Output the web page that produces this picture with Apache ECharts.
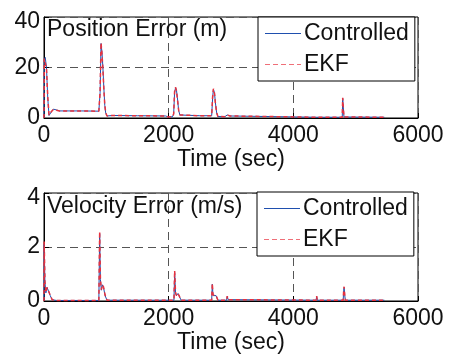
<!DOCTYPE html>
<html>
<head>
<meta charset="utf-8">
<script src="https://cdn.jsdelivr.net/npm/echarts@6/dist/echarts.min.js"></script>
<style>
  html, body { margin: 0; padding: 0; background: #fff; }
  #chart { width: 449px; height: 355px; }
</style>
</head>
<body>
<div id="chart"></div>
<script>
// Time samples (sec) and error traces for the position panel
const posTime = [0, 5, 20, 40, 60, 80, 100, 120, 150, 200, 250, 400, 600, 880, 900, 915, 930, 945, 960, 975, 990, 1010, 1100, 1500, 1950, 2000, 2060, 2080, 2095, 2110, 2125, 2140, 2160, 2180, 2200, 2500, 2690, 2705, 2718, 2735, 2750, 2770, 2790, 2900, 2940, 2960, 2985, 3010, 4370, 4380, 4395, 4785, 4792, 4805, 4812, 5460];
const posControlled = [0, 23, 24, 20, 8, 1, 0.5, 2.5, 3.5, 3.2, 2.8, 2.8, 2.8, 2.7, 10, 29.5, 26, 20, 12, 5, 2, 0.8, 1.0, 0.9, 0.8, 0.4, 0.5, 1.5, 10, 12, 11, 8, 3, 1.2, 0.9, 0.9, 0.9, 8, 11.4, 10, 6, 2, 0.6, 0.5, 1.2, 1.9, 0.8, 0.3, 0.3, 0.6, 0.3, 0.3, 7.8, 7.8, 0.4, 0.3];
const posEKF = [0, 23.5, 23.8, 19.5, 8.5, 1.2, 0.6, 2.6, 3.4, 3.1, 2.8, 2.8, 2.8, 2.7, 10.5, 29.8, 25.5, 19.5, 11.5, 5.2, 2.1, 0.8, 1.0, 0.9, 0.8, 0.4, 0.5, 1.6, 10.4, 12.2, 10.8, 7.6, 3.1, 1.2, 0.9, 0.9, 0.9, 8.3, 11.6, 9.8, 5.8, 2.1, 0.6, 0.5, 1.2, 1.9, 0.8, 0.3, 0.3, 0.6, 0.3, 0.3, 8.0, 7.9, 0.4, 0.3];

// Time samples (sec) and error traces for the velocity panel
const velTime = [0, 3, 15, 30, 50, 70, 100, 130, 200, 880, 893, 905, 920, 936, 955, 980, 1010, 2085, 2096, 2110, 2125, 2150, 2175, 2200, 2690, 2700, 2712, 2735, 2760, 2790, 2930, 2940, 2955, 2980, 4365, 4374, 4385, 4800, 4808, 4815, 4825, 4835, 5300, 5310, 5320, 5460];
const velControlled = [0, 2.1, 0.7, 0.3, 0.5, 0.45, 0.2, 0.05, 0.02, 0.02, 2.5, 0.8, 0.4, 0.6, 0.5, 0.2, 0.03, 0.03, 1.05, 0.3, 0.2, 0.28, 0.15, 0.03, 0.03, 0.62, 0.2, 0.18, 0.2, 0.03, 0.03, 0.17, 0.05, 0.03, 0.03, 0.17, 0.03, 0.03, 0.4, 0.5, 0.2, 0.03, 0.03, 0.06, 0.03, 0.03];
const velEKF = [0, 2.2, 0.72, 0.32, 0.5, 0.46, 0.22, 0.05, 0.02, 0.02, 2.57, 0.82, 0.42, 0.6, 0.52, 0.22, 0.03, 0.03, 1.12, 0.32, 0.2, 0.28, 0.16, 0.03, 0.03, 0.65, 0.22, 0.18, 0.21, 0.03, 0.03, 0.18, 0.05, 0.03, 0.03, 0.18, 0.03, 0.03, 0.42, 0.53, 0.21, 0.03, 0.03, 0.06, 0.03, 0.03];

// Axis ticks
const xTicks = [0, 2000, 4000, 6000];
const posTicks = [0, 20, 40];
const velTicks = [0, 2, 4];

const FONT = 'Liberation Sans, Arial, Helvetica, sans-serif';
const FS = 23;
const BLUE = '#1f4fae';
const RED = '#e8323e';
const RED_LIGHT = '#ef6f78';

// Legend glyphs: a 1px stroke centred in a 36x12 box (hairline corners keep the box size)
const SOLID_ICON = 'path://M0,0h36v0.01h-36zM0,5.5h36v1h-36zM0,11.99h36v0.01h-36z';
const DASH_ICON = 'path://M0,0h36v0.01h-36zM0,5.5h5v1h-5zM8,5.5h5v1h-5zM16,5.5h5v1h-5zM24,5.5h5v1h-5zM32,5.5h4v1h-4zM0,11.99h36v0.01h-36z';

function pairs(t, v) { return t.map((x, i) => [x, v[i]]); }

function xAxisCfg(gridIndex) {
  return {
    type: 'value', gridIndex,
    min: xTicks[0], max: xTicks[xTicks.length - 1], interval: xTicks[1] - xTicks[0],
    name: 'Time (sec)', nameLocation: 'middle', nameGap: 28,
    nameTextStyle: { fontFamily: FONT, fontSize: FS, color: '#111' },
    axisLine: { show: true, lineStyle: { color: '#000', width: 1 } },
    axisTick: { show: true, inside: true, length: 5, lineStyle: { color: '#000' } },
    axisLabel: { fontFamily: FONT, fontSize: FS, color: '#111', margin: 6,
      formatter: v => String(v) },
    splitLine: {
      show: true,
      lineStyle: { color: '#555', type: [8, 5], width: 1 }
    }
  };
}

function yAxisCfg(gridIndex, ticks) {
  const top = ticks[ticks.length - 1];
  return {
    type: 'value', gridIndex,
    min: ticks[0], max: top, interval: ticks[1] - ticks[0],
    axisLine: { show: true, lineStyle: { color: '#000', width: 1 } },
    axisTick: { show: true, inside: true, length: 5, lineStyle: { color: '#000' } },
    axisLabel: {
      fontFamily: FONT, fontSize: FS, color: '#111', margin: 4,
      // the top label sits a little lower than its tick
      formatter: v => (v === top ? '{hi|' + v + '}' : String(v)),
      rich: { hi: { fontFamily: FONT, fontSize: FS, color: '#111', padding: [10, 0, 0, 0] } }
    },
    splitLine: {
      show: true,
      lineStyle: { color: '#555', type: [8, 5], width: 1 }
    }
  };
}

function legendCfg(left, top) {
  return {
    orient: 'vertical', left, top,
    data: [
      { name: 'Controlled', icon: SOLID_ICON, itemStyle: { color: BLUE, borderWidth: 0 } },
      { name: 'EKF', icon: DASH_ICON, itemStyle: { color: RED_LIGHT, borderWidth: 0 } }
    ],
    backgroundColor: '#fff',
    borderColor: '#000', borderWidth: 1, borderRadius: 0,
    padding: [5, 6, 5, 7],
    itemWidth: 36, itemHeight: 12, itemGap: 8,
    textStyle: { fontFamily: FONT, fontSize: FS, color: '#111', padding: [0, 0, 0, -2] },
    selectedMode: false
  };
}

function lineSeries(name, data, xi, color, dashed) {
  return {
    type: 'line', name, data, xAxisIndex: xi, yAxisIndex: xi,
    symbol: 'none', animation: false,
    lineStyle: dashed
      ? { color, width: 1.5, type: [4, 3] }
      : { color, width: 1 },
    itemStyle: { color },
    z: dashed ? 3 : 2
  };
}

const titleStyle = { fontFamily: FONT, fontSize: FS, fontWeight: 'normal', color: '#111' };

const chart = echarts.init(document.getElementById('chart'), null, { renderer: 'canvas' });
chart.setOption({
  backgroundColor: '#fff',
  animation: false,
  title: [
    { text: 'Position Error (m)', left: 47, top: 18, padding: 0, textStyle: titleStyle },
    { text: 'Velocity Error (m/s)', left: 47, top: 195, padding: 0, textStyle: titleStyle }
  ],
  grid: [
    { left: 44, right: 31, top: 17, height: 101, show: true, borderColor: '#000', borderWidth: 1, backgroundColor: 'transparent' },
    { left: 44, right: 31, top: 193, height: 108, show: true, borderColor: '#000', borderWidth: 1, backgroundColor: 'transparent' }
  ],
  xAxis: [xAxisCfg(0), xAxisCfg(1)],
  yAxis: [yAxisCfg(0, posTicks), yAxisCfg(1, velTicks)],
  legend: [legendCfg(258, 17), legendCfg(257, 192)],
  series: [
    lineSeries('Controlled', pairs(posTime, posControlled), 0, BLUE, false),
    lineSeries('EKF', pairs(posTime, posEKF), 0, RED, true),
    lineSeries('Controlled', pairs(velTime, velControlled), 1, BLUE, false),
    lineSeries('EKF', pairs(velTime, velEKF), 1, RED, true)
  ]
});
</script>
</body>
</html>
